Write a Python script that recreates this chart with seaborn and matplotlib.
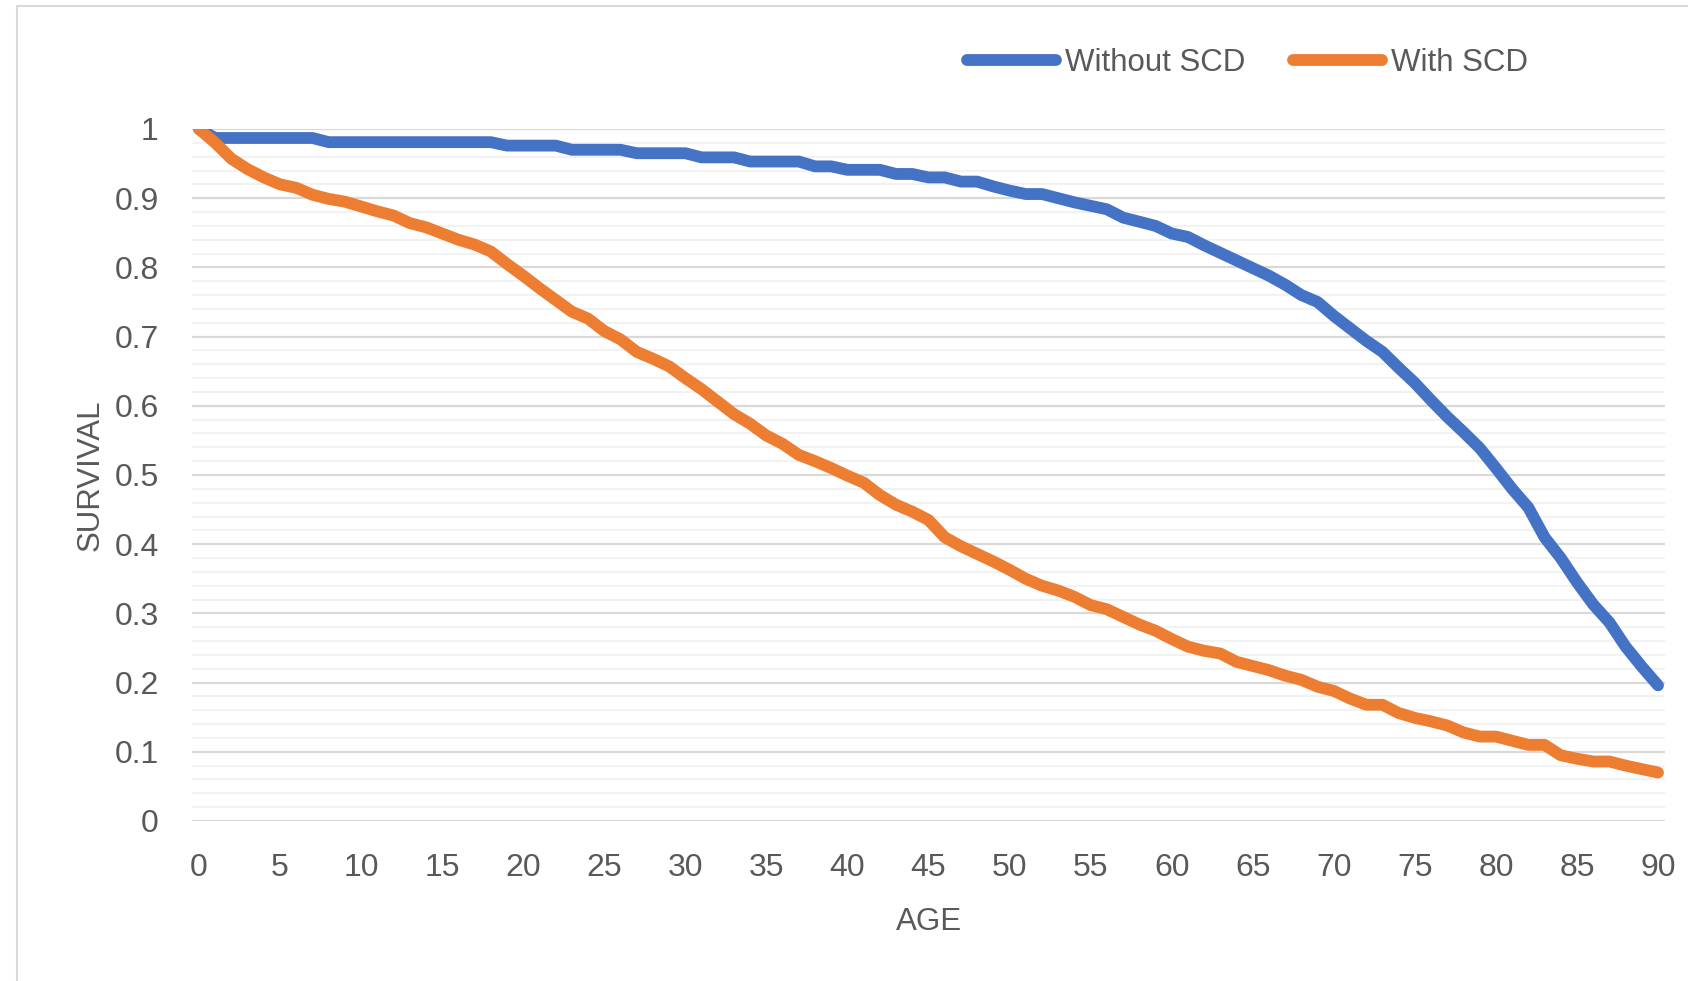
import numpy as np
import pandas as pd
import matplotlib
matplotlib.use("Agg")
import matplotlib.pyplot as plt
from matplotlib.lines import Line2D
import seaborn as sns

# survival curves, one value per year of age
ages = list(range(0, 91))

without_scd = [
    1.000, 0.987, 0.987, 0.987, 0.987, 0.987, 0.987, 0.987, 0.981, 0.981,
    0.981, 0.981, 0.981, 0.981, 0.981, 0.981, 0.981, 0.981, 0.981, 0.976,
    0.976, 0.976, 0.976, 0.970, 0.970, 0.970, 0.970, 0.965, 0.965, 0.965,
    0.965, 0.959, 0.959, 0.959, 0.953, 0.953, 0.953, 0.953, 0.946, 0.946,
    0.941, 0.941, 0.941, 0.935, 0.935, 0.930, 0.930, 0.924, 0.924, 0.917,
    0.911, 0.906, 0.906, 0.900, 0.894, 0.889, 0.884, 0.872, 0.866, 0.860,
    0.849, 0.844, 0.832, 0.821, 0.810, 0.799, 0.788, 0.775, 0.760, 0.750,
    0.730, 0.712, 0.694, 0.678, 0.655, 0.633, 0.608, 0.584, 0.562, 0.539,
    0.510, 0.480, 0.453, 0.410, 0.380, 0.345, 0.313, 0.287, 0.252, 0.223,
    0.196,
]

with_scd = [
    1.000, 0.980, 0.957, 0.942, 0.930, 0.920, 0.915, 0.905, 0.899, 0.895,
    0.888, 0.881, 0.875, 0.864, 0.858, 0.849, 0.840, 0.833, 0.823, 0.805,
    0.788, 0.770, 0.753, 0.736, 0.726, 0.708, 0.696, 0.678, 0.668, 0.657,
    0.640, 0.624, 0.606, 0.588, 0.574, 0.557, 0.545, 0.529, 0.520, 0.510,
    0.499, 0.489, 0.471, 0.457, 0.447, 0.435, 0.410, 0.397, 0.386, 0.375,
    0.363, 0.350, 0.340, 0.333, 0.324, 0.312, 0.306, 0.295, 0.284, 0.275,
    0.263, 0.252, 0.246, 0.242, 0.230, 0.224, 0.218, 0.210, 0.204, 0.194,
    0.188, 0.177, 0.168, 0.168, 0.156, 0.149, 0.144, 0.138, 0.128, 0.122,
    0.122, 0.116, 0.110, 0.110, 0.095, 0.090, 0.086, 0.086, 0.080, 0.075,
    0.070,
]

series_names = ["Without SCD", "With SCD"]
series_colors = ["#4472C4", "#ED7D31"]
x_ticks = list(range(0, 91, 5))
y_ticks = [0, 0.1, 0.2, 0.3, 0.4, 0.5, 0.6, 0.7, 0.8, 0.9, 1]
y_tick_labels = ["0", "0.1", "0.2", "0.3", "0.4", "0.5", "0.6", "0.7", "0.8", "0.9", "1"]

df = pd.DataFrame({
    "AGE": ages * 2,
    "SURVIVAL": without_scd + with_scd,
    "series": [series_names[0]] * len(ages) + [series_names[1]] * len(ages),
})

sns.set_theme(style="white")
plt.rcParams["font.family"] = ["Liberation Sans", "DejaVu Sans"]
text_grey = "#595959"

fig = plt.figure(figsize=(16.88, 9.81), dpi=100)
ax = fig.add_axes([192 / 1688, 1 - 821 / 981, 1473 / 1688, 692 / 981])

sns.lineplot(data=df, x="AGE", y="SURVIVAL", hue="series", palette=series_colors,
             hue_order=series_names, linewidth=8.5, ax=ax, legend=False,
             solid_capstyle="round", solid_joinstyle="round", zorder=3)

ax.set_xlim(-0.43, 90.43)
ax.set_ylim(0, 1)
ax.set_xticks(x_ticks)
ax.set_yticks(y_ticks)
ax.set_yticklabels(y_tick_labels)
ax.set_yticks(np.arange(0, 1.0001, 0.02), minor=True)

ax.grid(False)
ax.yaxis.grid(True, which="minor", color="#f2f2f2", linewidth=1.5, zorder=0)
ax.yaxis.grid(True, which="major", color="#d9d9d9", linewidth=1.6, zorder=1)
ax.set_axisbelow(True)
for s in ax.spines.values():
    s.set_visible(False)

ax.tick_params(axis="both", which="both", length=0, labelsize=23, labelcolor=text_grey)
ax.tick_params(axis="x", pad=23)
ax.tick_params(axis="y", pad=24)

ax.set_xlabel("AGE", fontsize=22.5, color=text_grey, va="center")
ax.xaxis.set_label_coords(0.5, -0.146)
ax.set_ylabel("SURVIVAL", fontsize=22.5, color=text_grey, va="center")
ax.yaxis.set_label_coords(-0.069, 0.5)

handles = [Line2D([0], [0], color=c, linewidth=8.5, solid_capstyle="round") for c in series_colors]
fig.legend(handles, series_names, loc="center", bbox_to_anchor=(0.739, 0.936), ncol=2,
           frameon=False, fontsize=22.5, labelcolor=text_grey, handlelength=2.85,
           handletextpad=0.3, columnspacing=1.5)

# light chart border on the left and top edges
fig.add_artist(Line2D([17 / 1688, 17 / 1688], [0, 1 - 6 / 981], transform=fig.transFigure,
                      color="#d9d9d9", linewidth=1.5))
fig.add_artist(Line2D([17 / 1688, 1], [1 - 6 / 981, 1 - 6 / 981], transform=fig.transFigure,
                      color="#d9d9d9", linewidth=1.5))

fig.savefig("out.png", dpi=100)
